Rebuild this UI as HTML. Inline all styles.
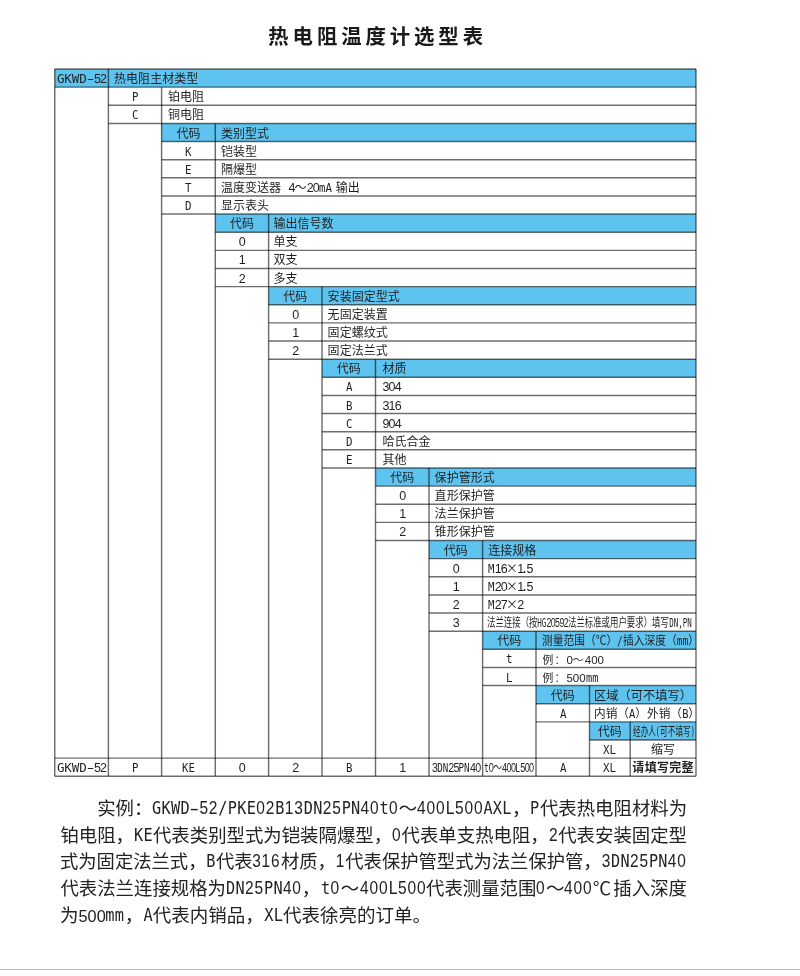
<!DOCTYPE html>
<html lang="zh-CN">
<head>
<meta charset="utf-8">
<title>热电阻温度计选型表</title>
<style>
html,body{margin:0;padding:0;background:#fff;}
body{width:800px;height:976px;position:relative;overflow:hidden;color:#1f1f1f;
 font-family:"DejaVu Sans Mono","Noto Sans CJK SC",sans-serif;}
#grid{position:absolute;left:0;top:0;}
h1{position:absolute;left:0;top:21.5px;width:751.4px;margin:0;text-align:center;
 font-family:"Liberation Sans","Noto Sans CJK SC",sans-serif;font-weight:bold;font-size:20.4px;
 line-height:30px;letter-spacing:3.9px;text-indent:3.9px;color:#1a1a1a;white-space:nowrap;}
.c{position:absolute;height:18.135px;line-height:18.135px;font-size:12px;white-space:nowrap;letter-spacing:0.05px;}
.c.m{text-align:center;}
.c.l{text-align:left;padding-left:5.6px;}
.e{font-family:"DejaVu Sans Mono",monospace;font-size:12.5px;letter-spacing:0;}
.c .e{display:inline-block;transform:scaleX(0.86);transform-origin:0 50%;text-align:left;}
.c .e.g{display:inline;transform:none;letter-spacing:-0.1px;}
.z{font-family:"Liberation Sans",sans-serif;font-size:12.5px;letter-spacing:-0.8px;}
.a{font-family:"Liberation Sans",sans-serif;font-size:11.5px;letter-spacing:0;}
.f{display:inline-block;transform-origin:0 50%;white-space:nowrap;}
.c b{font-weight:bold;letter-spacing:0.3px;}
.x{font-family:"Noto Sans CJK SC",sans-serif;font-size:12px;margin:0 -0.9px;line-height:0;}
.h{display:inline-block;transform:scaleX(1.8);}
.d{font-family:"DejaVu Sans Mono",monospace;font-size:12.5px;margin-left:-2.6px;margin-right:-1.8px;}
.sp{letter-spacing:-3.4px;}
.s{font-size:10.8px;letter-spacing:1.2px;position:relative;top:0.6px;left:0.8px;}
.s .a{font-size:11.5px;letter-spacing:0;}
.s .e{font-size:12px;}
.p{position:absolute;left:60.4px;width:626.6px;height:27px;line-height:27px;font-size:18.4px;white-space:nowrap;
 font-family:"Noto Sans CJK SC",sans-serif;letter-spacing:0px;color:#222;text-align:justify;text-align-last:justify;box-sizing:border-box;}
.p.last{text-align-last:left;}
.p .e{display:inline-block;transform:translateY(-0.8px) scaleX(0.86);transform-origin:0 50%;text-align:left;font-size:17.7px;letter-spacing:0.367px;}
.p .z{font-size:18px;letter-spacing:1.013px;}
.p .a{font-size:16.2px;letter-spacing:0;}
#rule{position:absolute;left:0;top:969px;width:800px;height:1px;background:#bdbdbd;}
</style>
</head>
<body>
<h1>热电阻温度计选型表</h1>
<svg id="grid" width="800" height="976" viewBox="0 0 800 976">
<rect x="54.75" y="69.00" width="641.25" height="18.14" fill="#5ec4ef"/>
<rect x="161.60" y="123.41" width="534.40" height="18.14" fill="#5ec4ef"/>
<rect x="215.30" y="214.08" width="480.70" height="18.14" fill="#5ec4ef"/>
<rect x="268.60" y="286.62" width="427.40" height="18.14" fill="#5ec4ef"/>
<rect x="322.00" y="359.16" width="374.00" height="18.14" fill="#5ec4ef"/>
<rect x="375.50" y="467.97" width="320.50" height="18.14" fill="#5ec4ef"/>
<rect x="429.00" y="540.51" width="267.00" height="18.14" fill="#5ec4ef"/>
<rect x="482.60" y="631.19" width="213.40" height="18.14" fill="#5ec4ef"/>
<rect x="536.00" y="685.59" width="160.00" height="18.14" fill="#5ec4ef"/>
<rect x="589.50" y="721.86" width="106.50" height="18.14" fill="#5ec4ef"/>
<g stroke="#000" stroke-opacity="0.57" stroke-width="1.45" fill="none">
<line x1="54.75" y1="69.00" x2="696.00" y2="69.00"/>
<line x1="54.75" y1="776.27" x2="696.00" y2="776.27"/>
<line x1="54.75" y1="758.13" x2="696.00" y2="758.13"/>
<line x1="54.75" y1="87.14" x2="696.00" y2="87.14"/>
<line x1="108.40" y1="105.27" x2="696.00" y2="105.27"/>
<line x1="108.40" y1="123.41" x2="696.00" y2="123.41"/>
<line x1="161.60" y1="141.54" x2="696.00" y2="141.54"/>
<line x1="161.60" y1="159.68" x2="696.00" y2="159.68"/>
<line x1="161.60" y1="177.81" x2="696.00" y2="177.81"/>
<line x1="161.60" y1="195.94" x2="696.00" y2="195.94"/>
<line x1="161.60" y1="214.08" x2="696.00" y2="214.08"/>
<line x1="215.30" y1="232.22" x2="696.00" y2="232.22"/>
<line x1="215.30" y1="250.35" x2="696.00" y2="250.35"/>
<line x1="215.30" y1="268.49" x2="696.00" y2="268.49"/>
<line x1="215.30" y1="286.62" x2="696.00" y2="286.62"/>
<line x1="268.60" y1="304.75" x2="696.00" y2="304.75"/>
<line x1="268.60" y1="322.89" x2="696.00" y2="322.89"/>
<line x1="268.60" y1="341.03" x2="696.00" y2="341.03"/>
<line x1="268.60" y1="359.16" x2="696.00" y2="359.16"/>
<line x1="322.00" y1="377.30" x2="696.00" y2="377.30"/>
<line x1="322.00" y1="395.43" x2="696.00" y2="395.43"/>
<line x1="322.00" y1="413.57" x2="696.00" y2="413.57"/>
<line x1="322.00" y1="431.70" x2="696.00" y2="431.70"/>
<line x1="322.00" y1="449.84" x2="696.00" y2="449.84"/>
<line x1="322.00" y1="467.97" x2="696.00" y2="467.97"/>
<line x1="375.50" y1="486.11" x2="696.00" y2="486.11"/>
<line x1="375.50" y1="504.24" x2="696.00" y2="504.24"/>
<line x1="375.50" y1="522.38" x2="696.00" y2="522.38"/>
<line x1="375.50" y1="540.51" x2="696.00" y2="540.51"/>
<line x1="429.00" y1="558.64" x2="696.00" y2="558.64"/>
<line x1="429.00" y1="576.78" x2="696.00" y2="576.78"/>
<line x1="429.00" y1="594.92" x2="696.00" y2="594.92"/>
<line x1="429.00" y1="613.05" x2="696.00" y2="613.05"/>
<line x1="429.00" y1="631.19" x2="696.00" y2="631.19"/>
<line x1="482.60" y1="649.32" x2="696.00" y2="649.32"/>
<line x1="482.60" y1="667.46" x2="696.00" y2="667.46"/>
<line x1="482.60" y1="685.59" x2="696.00" y2="685.59"/>
<line x1="536.00" y1="703.73" x2="696.00" y2="703.73"/>
<line x1="536.00" y1="721.86" x2="696.00" y2="721.86"/>
<line x1="589.50" y1="740.00" x2="696.00" y2="740.00"/>
<line x1="54.75" y1="69.00" x2="54.75" y2="776.27"/>
<line x1="696.00" y1="69.00" x2="696.00" y2="776.27"/>
<line x1="108.40" y1="69.00" x2="108.40" y2="776.27"/>
<line x1="161.60" y1="87.14" x2="161.60" y2="776.27"/>
<line x1="215.30" y1="123.41" x2="215.30" y2="776.27"/>
<line x1="268.60" y1="214.08" x2="268.60" y2="776.27"/>
<line x1="322.00" y1="286.62" x2="322.00" y2="776.27"/>
<line x1="375.50" y1="359.16" x2="375.50" y2="776.27"/>
<line x1="429.00" y1="467.97" x2="429.00" y2="776.27"/>
<line x1="482.60" y1="540.51" x2="482.60" y2="776.27"/>
<line x1="536.00" y1="631.19" x2="536.00" y2="776.27"/>
<line x1="589.50" y1="685.59" x2="589.50" y2="776.27"/>
<line x1="630.20" y1="721.86" x2="630.20" y2="776.27"/>
</g>
</svg>
<div class="c m" style="left:54.75px;top:70.10px;width:53.65px"><span class="e g">GKWD</span><span class="h">-</span><span class="z">52</span></div>
<div class="c l" style="left:108.40px;top:70.10px">热电阻主材类型</div>
<div class="c m" style="left:108.40px;top:88.23px;width:53.20px"><span class="e" style="width:6.48px">P</span></div>
<div class="c l" style="left:162.30px;top:88.23px">铂电阻</div>
<div class="c m" style="left:108.40px;top:106.37px;width:53.20px"><span class="e" style="width:6.48px">C</span></div>
<div class="c l" style="left:162.30px;top:106.37px">铜电阻</div>
<div class="c m" style="left:161.60px;top:124.50px;width:53.70px">代码</div>
<div class="c l" style="left:215.30px;top:124.50px">类别型式</div>
<div class="c m" style="left:161.60px;top:142.64px;width:53.70px"><span class="e" style="width:6.48px">K</span></div>
<div class="c l" style="left:215.30px;top:142.64px">铠装型</div>
<div class="c m" style="left:161.60px;top:160.78px;width:53.70px"><span class="e" style="width:6.48px">E</span></div>
<div class="c l" style="left:215.30px;top:160.78px">隔爆型</div>
<div class="c m" style="left:161.60px;top:178.91px;width:53.70px"><span class="e" style="width:6.48px">T</span></div>
<div class="c l" style="left:215.30px;top:178.91px">温度变送器 <span class="z">4</span>～<span class="z">20</span><span class="e" style="width:12.95px">mA</span><span class="sp"> </span>输出</div>
<div class="c m" style="left:161.60px;top:197.04px;width:53.70px"><span class="e" style="width:6.48px">D</span></div>
<div class="c l" style="left:215.30px;top:197.04px">显示表头</div>
<div class="c m" style="left:215.30px;top:215.18px;width:53.30px">代码</div>
<div class="c l" style="left:267.80px;top:215.18px">输出信号数</div>
<div class="c m" style="left:215.30px;top:233.31px;width:53.30px"><span class="z">0</span></div>
<div class="c l" style="left:267.80px;top:233.31px">单支</div>
<div class="c m" style="left:215.30px;top:251.45px;width:53.30px"><span class="z">1</span></div>
<div class="c l" style="left:267.80px;top:251.45px">双支</div>
<div class="c m" style="left:215.30px;top:269.59px;width:53.30px"><span class="z">2</span></div>
<div class="c l" style="left:267.80px;top:269.59px">多支</div>
<div class="c m" style="left:268.60px;top:287.72px;width:53.40px">代码</div>
<div class="c l" style="left:322.00px;top:287.72px">安装固定型式</div>
<div class="c m" style="left:268.60px;top:305.86px;width:53.40px"><span class="z">0</span></div>
<div class="c l" style="left:322.00px;top:305.86px">无固定装置</div>
<div class="c m" style="left:268.60px;top:323.99px;width:53.40px"><span class="z">1</span></div>
<div class="c l" style="left:322.00px;top:323.99px">固定螺纹式</div>
<div class="c m" style="left:268.60px;top:342.13px;width:53.40px"><span class="z">2</span></div>
<div class="c l" style="left:322.00px;top:342.13px">固定法兰式</div>
<div class="c m" style="left:322.00px;top:360.26px;width:53.50px">代码</div>
<div class="c l" style="left:376.80px;top:360.26px">材质</div>
<div class="c m" style="left:322.00px;top:378.40px;width:53.50px"><span class="e" style="width:6.48px">A</span></div>
<div class="c l" style="left:376.80px;top:378.40px"><span class="z">304</span></div>
<div class="c m" style="left:322.00px;top:396.53px;width:53.50px"><span class="e" style="width:6.48px">B</span></div>
<div class="c l" style="left:376.80px;top:396.53px"><span class="z">316</span></div>
<div class="c m" style="left:322.00px;top:414.67px;width:53.50px"><span class="e" style="width:6.48px">C</span></div>
<div class="c l" style="left:376.80px;top:414.67px"><span class="z">904</span></div>
<div class="c m" style="left:322.00px;top:432.80px;width:53.50px"><span class="e" style="width:6.48px">D</span></div>
<div class="c l" style="left:376.80px;top:432.80px">哈氏合金</div>
<div class="c m" style="left:322.00px;top:450.94px;width:53.50px"><span class="e" style="width:6.48px">E</span></div>
<div class="c l" style="left:376.80px;top:450.94px">其他</div>
<div class="c m" style="left:375.50px;top:469.07px;width:53.50px">代码</div>
<div class="c l" style="left:429.00px;top:469.07px">保护管形式</div>
<div class="c m" style="left:375.50px;top:487.21px;width:53.50px"><span class="z">0</span></div>
<div class="c l" style="left:429.00px;top:487.21px">直形保护管</div>
<div class="c m" style="left:375.50px;top:505.34px;width:53.50px"><span class="z">1</span></div>
<div class="c l" style="left:429.00px;top:505.34px">法兰保护管</div>
<div class="c m" style="left:375.50px;top:523.48px;width:53.50px"><span class="z">2</span></div>
<div class="c l" style="left:429.00px;top:523.48px">锥形保护管</div>
<div class="c m" style="left:429.00px;top:541.61px;width:53.60px">代码</div>
<div class="c l" style="left:482.60px;top:541.61px">连接规格</div>
<div class="c m" style="left:429.00px;top:559.75px;width:53.60px"><span class="z">0</span></div>
<div class="c l" style="left:482.60px;top:559.75px"><span class="e" style="width:6.48px">M</span><span class="z">16</span><span class="x">×</span><span class="z">1</span><span class="d">.</span><span class="z">5</span></div>
<div class="c m" style="left:429.00px;top:577.88px;width:53.60px"><span class="z">1</span></div>
<div class="c l" style="left:482.60px;top:577.88px"><span class="e" style="width:6.48px">M</span><span class="z">20</span><span class="x">×</span><span class="z">1</span><span class="d">.</span><span class="z">5</span></div>
<div class="c m" style="left:429.00px;top:596.02px;width:53.60px"><span class="z">2</span></div>
<div class="c l" style="left:482.60px;top:596.02px"><span class="e" style="width:6.48px">M</span><span class="z">27</span><span class="x">×</span><span class="z">2</span></div>
<div class="c m" style="left:429.00px;top:614.15px;width:53.60px"><span class="z">3</span></div>
<div class="c" style="left:486.80px;top:614.15px"><span class="f" style="transform:scaleX(0.6980)">法兰连接（按<span class="e" style="width:12.95px">HG</span><span class="z">20592</span>法兰标准或用户要求）填写<span class="e" style="width:32.37px">DN,PN</span></span></div>
<div class="c m" style="left:482.60px;top:632.29px;width:53.40px">代码</div>
<div class="c" style="left:542.30px;top:632.29px"><span class="f" style="transform:scaleX(0.8916)">测量范围（℃）<span class="e" style="width:6.48px">/</span>插入深度（<span class="e" style="width:12.95px">mm</span>）</span></div>
<div class="c m" style="left:482.60px;top:650.42px;width:53.40px"><span class="e" style="width:6.48px">t</span></div>
<div class="c l" style="left:536.00px;top:650.42px"><span class="s">例：<span class="a">0</span>～<span class="a">400</span></span></div>
<div class="c m" style="left:482.60px;top:668.56px;width:53.40px"><span class="e" style="width:6.48px">L</span></div>
<div class="c l" style="left:536.00px;top:668.56px"><span class="s">例：<span class="a">500</span><span class="e" style="width:12.43px">mm</span></span></div>
<div class="c m" style="left:536.00px;top:686.69px;width:53.50px">代码</div>
<div class="c" style="left:594.30px;top:686.69px"><span class="f" style="transform:scaleX(1.0176)">区域（可不填写）</span></div>
<div class="c m" style="left:536.00px;top:704.83px;width:53.50px"><span class="e" style="width:6.48px">A</span></div>
<div class="c" style="left:594.30px;top:704.83px"><span class="f" style="transform:scaleX(0.9693)">内销（<span class="e" style="width:6.48px">A</span>）外销（<span class="e" style="width:6.48px">B</span>）</span></div>
<div class="c m" style="left:589.50px;top:722.96px;width:40.70px">代码</div>
<div class="c" style="left:632.80px;top:722.96px"><span class="f" style="transform:scaleX(0.6352)">经办人<span class="e" style="width:6.48px">(</span>可不填写<span class="e" style="width:6.48px">)</span></span></div>
<div class="c m" style="left:589.50px;top:741.10px;width:40.70px"><span class="e" style="width:12.95px">XL</span></div>
<div class="c m" style="left:630.20px;top:741.10px;width:65.80px">缩写</div>
<div class="c m" style="left:54.75px;top:759.23px;width:53.65px"><span class="e g">GKWD</span><span class="h">-</span><span class="z">52</span></div>
<div class="c m" style="left:108.40px;top:759.23px;width:53.20px"><span class="e" style="width:6.48px">P</span></div>
<div class="c m" style="left:161.60px;top:759.23px;width:53.70px"><span class="e" style="width:12.95px">KE</span></div>
<div class="c m" style="left:215.30px;top:759.23px;width:53.30px"><span class="z">0</span></div>
<div class="c m" style="left:268.60px;top:759.23px;width:53.40px"><span class="z">2</span></div>
<div class="c m" style="left:322.00px;top:759.23px;width:53.50px"><span class="e" style="width:6.48px">B</span></div>
<div class="c m" style="left:375.50px;top:759.23px;width:53.50px"><span class="z">1</span></div>
<div class="c" style="left:431.80px;top:759.23px"><span class="f" style="transform:scaleX(0.8543)"><span class="z">3</span><span class="e" style="width:12.95px">DN</span><span class="z">25</span><span class="e" style="width:12.95px">PN</span><span class="z">40</span></span></div>
<div class="c" style="left:484.20px;top:759.23px"><span class="f" style="transform:scaleX(0.7284)"><span class="e" style="width:6.48px">t</span><span class="z">0</span>～<span class="z">400</span><span class="e" style="width:6.48px">L</span><span class="z">500</span></span></div>
<div class="c m" style="left:536.00px;top:759.23px;width:53.50px"><span class="e" style="width:6.48px">A</span></div>
<div class="c m" style="left:589.50px;top:759.23px;width:40.70px"><span class="e" style="width:12.95px">XL</span></div>
<div class="c m" style="left:630.20px;top:759.23px;width:65.80px"><b>请填写完整</b></div>
<div class="p" style="top:793.90px;padding-left:36.80px;">实例：<span class="e" style="width:246.48px;">GKWD<span class="h">-</span><span class="z">52</span>/PKE<span class="z">02</span>B<span class="z">13</span>DN<span class="z">25</span>PN<span class="z">40</span>t<span class="z">0</span></span>～<span class="e" style="width:94.80px;"><span class="z">400</span>L<span class="z">500</span>AXL</span>，<span class="e" style="width:9.48px;">P</span>代表热电阻材料为</div>
<div class="p" style="top:820.55px;">铂电阻，<span class="e" style="width:18.96px;">KE</span>代表类别型式为铠装隔爆型，<span class="e" style="width:9.48px;"><span class="z">0</span></span>代表单支热电阻，<span class="e" style="width:9.48px;"><span class="z">2</span></span>代表安装固定型</div>
<div class="p" style="top:847.20px;transform:scaleX(.9957);transform-origin:0 0;">式为固定法兰式，<span class="e" style="width:9.48px;">B</span>代表<span class="e" style="width:28.44px;"><span class="z">316</span></span>材质，<span class="e" style="width:9.48px;"><span class="z">1</span></span>代表保护管型式为法兰保护管，<span class="e" style="width:85.32px;"><span class="z">3</span>DN<span class="z">25</span>PN<span class="z">40</span></span></div>
<div class="p" style="top:873.85px;">代表法兰连接规格为<span class="e" style="width:75.84px;">DN<span class="z">25</span>PN<span class="z">40</span></span>，<span class="e" style="width:18.96px;margin-left:1px">t<span class="z">0</span></span><span style="margin:0 .5px">～</span><span class="e" style="width:66.36px;"><span class="z">400</span>L<span class="z">500</span></span>代表测量范围<span class="e" style="width:9.48px;"><span class="z">0</span></span>～<span class="e" style="width:28.44px;"><span class="z">400</span></span><span style="margin-right:2.2px">℃</span>插入深度</div>
<div class="p last" style="top:900.50px;transform:scaleX(1.006);transform-origin:0 0;">为<span class="a">500</span><span class="e" style="width:18.96px;">mm</span>，<span class="e" style="width:9.48px;">A</span>代表内销品，<span class="e" style="width:18.96px;">XL</span>代表徐亮的订单。</div>
<div id="rule"></div>
</body>
</html>
